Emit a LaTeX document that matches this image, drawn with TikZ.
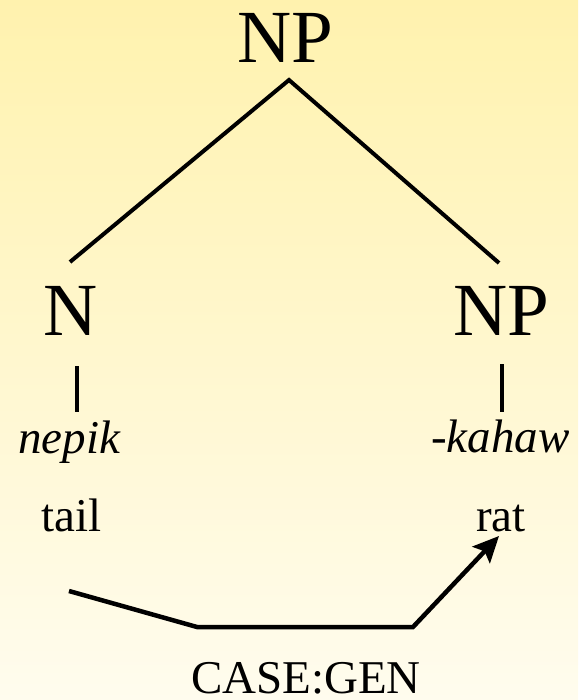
\documentclass[tikz,border=0pt]{standalone}
\usepackage{fontspec}
\setmainfont{Liberation Serif}
\usetikzlibrary{arrows.meta}
\definecolor{bgtop}{HTML}{FFF2AE}
\definecolor{bgmid}{HTML}{FFF8D8}
\definecolor{bgbot}{HTML}{FFFCEE}
\tikzset{
  big/.style={inner sep=0pt, font=\fontsize{75}{80}\selectfont},
  small/.style={inner sep=0pt, font=\fontsize{47}{52}\selectfont},
  branch/.style={line width=4pt, line cap=butt},
  arc/.style={line width=4.5pt, line join=miter, -{Stealth[length=26pt,width=24pt,inset=5pt]}},
}
\begin{document}
\begin{tikzpicture}[x=1pt,y=-1pt]
\shade[top color=bgtop, middle color=bgmid, bottom color=bgbot, shading angle=0] (0,0) rectangle (578,700);
\useasboundingbox (0,0) rectangle (578,700);
% nodes
\node[big, anchor=base] (top) at (285,63) {NP};
\node[big, anchor=base] (n) at (71,335) {N};
\node[big, anchor=base] (np) at (501,335) {NP};
\node[small, anchor=base west] (nepik) at (18,453) {\itshape nepik};
\node[small, anchor=base west] (kahaw) at (431,452) {\itshape -kahaw};
\node[small, anchor=base west] (tail) at (41,531) {tail};
\node[small, anchor=base west] (rat) at (476,531) {rat};
\node[small, anchor=base] (gen) at (306,693) {CASE:GEN};
% connector ends
\coordinate (apex) at (289,80);
\coordinate (nL) at (70,262);
\coordinate (npR) at (499,263);
\coordinate (nT) at (77,366);
\coordinate (nB) at (77,412);
\coordinate (npT) at (502,364);
\coordinate (npB) at (502,412);
\coordinate (s) at (69,591);
\coordinate (c1) at (197,627);
\coordinate (c2) at (413,627);
\coordinate (tip) at (499,536);
% branches
\draw[branch] (nL) -- (apex) -- (npR);
\draw[branch] (nT) -- (nB);
\draw[branch] (npT) -- (npB);
\draw[arc] (s) -- (c1) -- (c2) -- (tip);
\end{tikzpicture}
\end{document}
